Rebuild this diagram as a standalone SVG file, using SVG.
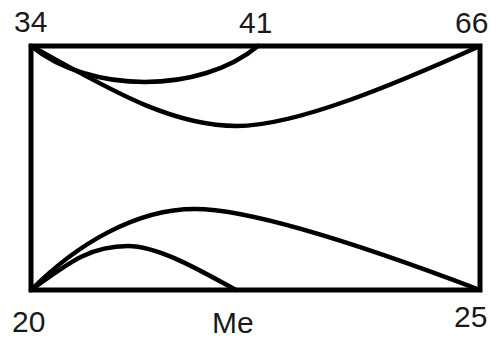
<svg xmlns="http://www.w3.org/2000/svg" width="494" height="340" viewBox="0 0 494 340">
  <style>
    .lbl { font-family: "Liberation Sans", Arial, sans-serif; font-size: 30px; fill: #1a1a1a; }
    .frame { fill: none; stroke: #000; stroke-width: 5; stroke-linejoin: miter; }
    .curve { fill: none; stroke: #000; stroke-width: 4.5; stroke-linecap: round; }
  </style>
  <rect width="494" height="340" fill="#fff"/>
  <g id="frame">
    <rect class="frame" x="31" y="46" width="449" height="244"/>
  </g>
  <g id="connectors">
    <path class="curve" d="M31,46 C90,94 200,94 258,46"/>
    <path class="curve" d="M31,46 C101,84 167,126 237,126 C297,126 400,82 480,46"/>
    <path class="curve" d="M31,290 C76,245 135,209 195,209 C255,209 380,252 480,290"/>
    <path class="curve" d="M31,290 C66,265 88,246 128,246 C160,246 206,274 236,290"/>
  </g>
  <g id="n34"><text class="lbl" x="14" y="32">34</text></g>
  <g id="n41"><text class="lbl" x="239" y="33">41</text></g>
  <g id="n66"><text class="lbl" x="455" y="33">66</text></g>
  <g id="n20"><text class="lbl" x="12" y="332">20</text></g>
  <g id="nMe"><text class="lbl" x="212" y="333">Me</text></g>
  <g id="n25"><text class="lbl" x="454" y="327">25</text></g>
</svg>
